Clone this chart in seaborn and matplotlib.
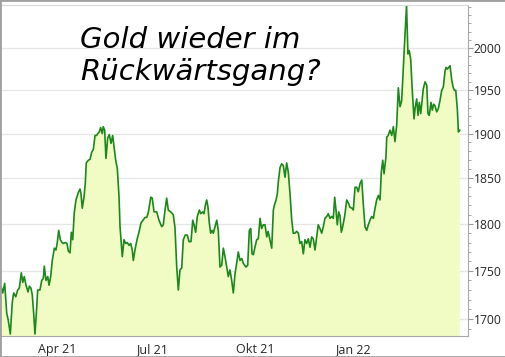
import pandas as pd
import matplotlib
matplotlib.use("Agg")
import matplotlib.pyplot as plt
import matplotlib.ticker as mticker
from matplotlib.patches import Rectangle
import seaborn as sns

# ---------------------------
# Data (gold price, USD/oz)
# ---------------------------

start_date = "2021-02-26"

day_offset = [
    0.0, 1.6, 3.4, 5.3, 6.7, 8.6, 10.4, 11.7, 13.6, 15.4,
    16.9, 18.8, 20.1, 21.5, 23.1, 25.0, 26.2, 27.7, 28.9, 30.2,
    31.4, 33.0, 33.9, 36.0, 37.6, 39.1, 40.0, 41.6, 43.2, 44.4,
    45.9, 47.4, 49.3, 50.8, 52.0, 53.3, 54.8, 56.4, 57.6, 59.4,
    61.0, 62.2, 63.8, 65.0, 66.3, 67.7, 69.3, 71.4, 73.0, 73.9,
    75.1, 76.7, 77.9, 78.8, 80.7, 82.3, 83.8, 85.3, 86.9, 88.4,
    89.4, 90.8, 92.1, 93.6, 94.5, 95.8, 97.0, 98.6, 100.1, 101.7,
    103.2, 104.4, 106.0, 107.5, 109.1, 110.0, 110.9, 112.1, 113.7, 115.2,
    116.7, 118.3, 119.9, 121.3, 122.3, 123.8, 125.7, 127.5, 129.4, 131.2,
    133.1, 134.7, 136.1, 138.4, 139.8, 141.4, 143.9, 146.0, 148.5, 150.0,
    151.6, 153.1, 154.6, 156.8, 159.2, 160.8, 162.4, 163.9, 165.4, 167.0,
    168.5, 170.3, 172.2, 173.7, 175.6, 177.2, 178.4, 179.9, 181.4, 183.3,
    184.6, 186.4, 187.6, 188.8, 190.1, 191.3, 192.5, 193.8, 195.0, 196.2,
    197.8, 199.4, 200.8, 202.4, 204.0, 205.5, 207.0, 208.6, 210.1, 211.6,
    213.2, 214.7, 216.3, 217.8, 219.3, 220.9, 222.5, 223.9, 226.4, 228.0,
    229.5, 230.8, 232.0, 233.2, 234.7, 236.3, 237.8, 239.4, 240.9, 242.4,
    244.0, 245.6, 246.8, 248.0, 250.2, 251.7, 252.6, 254.2, 255.4, 256.3,
    257.9, 259.4, 260.9, 262.5, 264.0, 265.5, 267.1, 268.7, 270.1, 271.7,
    273.3, 274.8, 276.3, 277.9, 279.4, 280.9, 282.5, 284.0, 285.6, 287.1,
    288.6, 290.2, 291.8, 293.2, 294.8, 296.4, 297.9, 299.4, 301.0, 302.5,
    304.1, 305.6, 307.1, 308.4, 309.6, 310.8, 312.1, 313.3, 314.5, 315.8,
    317.7, 319.5, 321.3, 322.5, 324.4, 325.6, 327.2, 328.7, 330.2, 331.8,
    333.4, 334.8, 336.4, 338.0, 339.5, 341.0, 342.6, 344.1, 345.7, 347.2,
    348.7, 350.3, 351.5, 352.8, 354.0, 355.8, 356.5, 357.9, 359.5, 361.1,
    362.6, 364.1, 365.7, 367.2, 368.8, 370.3, 371.8, 373.4, 374.8, 376.1,
    377.3, 378.6, 380.1, 381.7, 382.9, 384.2, 385.4, 386.6, 387.9, 389.1,
    390.3, 391.9, 393.5, 394.6, 395.8, 397.4, 398.6, 399.9, 401.1, 402.7,
    404.2, 405.7, 407.3, 408.8, 410.4, 411.3, 412.5, 413.8, 415.0, 416.6,
    417.8, 419.0, 420.3, 421.8, 422.7, 424.0,
]

price = [
    1734, 1727, 1737, 1706, 1699, 1685, 1717, 1727, 1723, 1730,
    1732, 1748, 1738, 1744, 1735, 1728, 1734, 1732, 1725, 1706,
    1685, 1712, 1730, 1730, 1740, 1742, 1755, 1740, 1744, 1735,
    1744, 1761, 1774, 1772, 1780, 1793, 1783, 1780, 1779, 1780,
    1779, 1771, 1769, 1791, 1783, 1812, 1826, 1834, 1838, 1833,
    1817, 1829, 1844, 1867, 1870, 1871, 1879, 1882, 1898, 1898,
    1900, 1902, 1907, 1900, 1908, 1904, 1872, 1895, 1899, 1889,
    1898, 1886, 1870, 1861, 1829, 1797, 1783, 1765, 1783, 1779,
    1780, 1777, 1779, 1772, 1761, 1772, 1783, 1791, 1801, 1804,
    1807, 1807, 1812, 1829, 1828, 1813, 1813, 1804, 1797, 1799,
    1815, 1828, 1815, 1813, 1810, 1796, 1754, 1730, 1751, 1753,
    1783, 1788, 1788, 1781, 1781, 1804, 1799, 1791, 1808, 1815,
    1811, 1813, 1811, 1820, 1826, 1818, 1801, 1790, 1793, 1790,
    1797, 1804, 1793, 1754, 1756, 1774, 1765, 1754, 1744, 1751,
    1740, 1727, 1747, 1758, 1770, 1761, 1763, 1758, 1754, 1756,
    1793, 1795, 1768, 1767, 1775, 1783, 1784, 1806, 1795, 1799,
    1799, 1786, 1792, 1786, 1774, 1815, 1820, 1826, 1833, 1846,
    1862, 1866, 1864, 1851, 1867, 1857, 1833, 1804, 1790, 1790,
    1792, 1790, 1779, 1781, 1768, 1783, 1779, 1784, 1775, 1786,
    1784, 1772, 1786, 1799, 1795, 1790, 1797, 1806, 1808, 1811,
    1806, 1808, 1806, 1829, 1815, 1799, 1813, 1809, 1791, 1797,
    1809, 1826, 1822, 1818, 1817, 1815, 1840, 1840, 1835, 1844,
    1848, 1822, 1797, 1793, 1799, 1804, 1808, 1806, 1817, 1826,
    1831, 1826, 1857, 1870, 1855, 1874, 1896, 1898, 1904, 1898,
    1908, 1891, 1910, 1953, 1931, 1938, 1977, 2017, 2052, 1993,
    1997, 1987, 1950, 1917, 1931, 1940, 1921, 1936, 1923, 1938,
    1952, 1960, 1956, 1923, 1921, 1936, 1927, 1934, 1932, 1925,
    1929, 1938, 1950, 1954, 1973, 1977, 1975, 1977, 1979, 1962,
    1954, 1950, 1950, 1927, 1902, 1904,
]

y_ticks = [1700, 1750, 1800, 1850, 1900, 1950, 2000]
x_tick_dates = ["2021-04-01", "2021-07-01", "2021-10-01", "2022-01-01", "2022-04-01"]
x_tick_labels = ["Apr 21", "Jul 21", "Okt 21", "Jan 22", ""]
title_lines = ["Gold wieder im", "Rückwärtsgang?"]

df = pd.DataFrame({
    "Datum": pd.Timestamp(start_date) + pd.to_timedelta(day_offset, unit="D"),
    "Preis": price,
})

# ---------------------------
# Plot
# ---------------------------

sns.set_style("white")
plt.rcParams["font.family"] = ["Open Sans", "DejaVu Sans"]

fig = plt.figure(figsize=(5.06, 3.57), dpi=100)
ax = fig.add_axes([1 / 506, 1 - 336 / 357, 467 / 506, 331.5 / 357])

y_low, y_high = 1683, 2053
ax.fill_between(df["Datum"], df["Preis"], y_low - 50, color="#f0fcc4", lw=0)
sns.lineplot(data=df, x="Datum", y="Preis", color="#1c881c", linewidth=1.2, ax=ax)

ax.set_yscale("log")
ax.set_ylim(y_low, y_high)
ax.set_xlim(pd.Timestamp(start_date), pd.Timestamp(start_date) + pd.Timedelta(days=431.6))

ax.yaxis.tick_right()
ax.yaxis.set_major_locator(mticker.FixedLocator(y_ticks))
ax.yaxis.set_major_formatter(mticker.FormatStrFormatter("%d"))
ax.yaxis.set_minor_locator(mticker.MultipleLocator(10))
ax.yaxis.set_minor_formatter(mticker.NullFormatter())
ax.tick_params(axis="y", which="major", direction="out", length=3.5, width=0.8,
               color="#9a9a9a", labelsize=8.7, pad=0.5)
ax.tick_params(axis="y", which="minor", direction="out", length=2.5, width=0.6,
               color="#9a9a9a")

ax.set_xticks(pd.to_datetime(x_tick_dates))
ax.set_xticklabels(x_tick_labels, ha="left")
ax.tick_params(axis="x", which="major", direction="out", length=3, width=0.8,
               color="#9a9a9a", labelsize=9, pad=2)
ax.tick_params(axis="x", which="minor", length=0)

ax.yaxis.grid(True, which="major", color="#e6e6e6", lw=0.9)
ax.xaxis.grid(False)
ax.set_xlabel("")
ax.set_ylabel("")

ax.spines["left"].set_visible(False)
ax.spines["top"].set_color("#d8d8d8")
ax.spines["right"].set_color("#a8a8a8")
ax.spines["bottom"].set_color("#a8a8a8")
for s in ["top", "right", "bottom"]:
    ax.spines[s].set_linewidth(0.8)

fig.text(80 / 506, 1 - 47.7 / 357, title_lines[0], fontsize=21, va="baseline",
         ha="left", family=["DejaVu Sans"], style="italic", color="black")
fig.text(80 / 506, 1 - 80 / 357, title_lines[1], fontsize=21, va="baseline",
         ha="left", family=["DejaVu Sans"], style="italic", color="black")

fig.add_artist(Rectangle((0, 0), 1, 1, transform=fig.transFigure, fill=False,
                         edgecolor="#a0a0a0", lw=2))

fig.savefig("out.png", dpi=100)
